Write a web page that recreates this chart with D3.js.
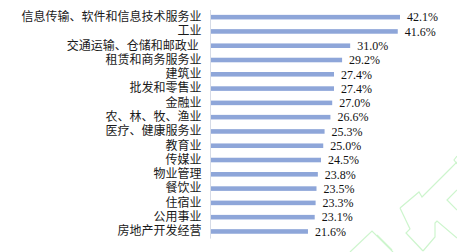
<!DOCTYPE html>
<html>
<head>
<meta charset="utf-8">
<script src="https://cdn.jsdelivr.net/npm/d3@7"></script>
<style>
  html, body { margin: 0; padding: 0; background: #fff; }
  svg { display: block; }
</style>
</head>
<body>
<div id="chart"></div>
<script>
// 行业名称（自上而下）
const industries = [
  '信息传输、软件和信息技术服务业', '工业', '交通运输、仓储和邮政业 ',
  '租赁和商务服务业', '建筑业', '批发和零售业', '金融业', '农、林、牧、渔业',
  '医疗、健康服务业', '教育业', '传媒业', '物业管理', '餐饮业', '住宿业',
  '公用事业', '房地产开发经营'
];
// 占比（%）
const shares = [42.1, 41.6, 31.0, 29.2, 27.4, 27.4, 27.0, 26.6,
  25.3, 25.0, 24.5, 23.8, 23.5, 23.3, 23.1, 21.6];

const width = 457, height = 252;
const axisX = 210.5;

const data = industries.map((name, i) => ({ name, value: shares[i] }));

const svg = d3.select('#chart').append('svg')
  .attr('width', width)
  .attr('height', height);

// 背景装饰（右下角浅绿色线框）
const deco = svg.append('g')
  .attr('fill', 'none')
  .attr('stroke', '#cdf5cd')
  .attr('stroke-width', 1.2);
[
  'M400,208 L419,192 L422,197 L450,169 L457,162',
  'M400,208 L410,229 L406,233 L423,251',
  'M423,251 L435,237 L435,223 L437,221 L457,238',
  'M457,190 L447,200 L457,210',
  'M457,156 L454,160 L457,164',
  'M350,252 L372,231 L393,252',
  'M377,235 L392,250'
].forEach(d => deco.append('path').attr('d', d));

// 比例尺
const y = d3.scaleBand()
  .domain(industries)
  .range([10, 238.6])
  .paddingInner(0.68)
  .paddingOuter(0.34);

const x = d3.scaleLinear()
  .domain([0, 42.1])
  .range([axisX + 0.5, 400]);

// 纵轴
const yAxis = svg.append('g')
  .attr('transform', `translate(${axisX},0)`)
  .call(d3.axisLeft(y).tickSize(0).tickPadding(9));
yAxis.select('.domain')
  .attr('stroke', '#d6dbe6')
  .attr('d', `M0,${y.range()[0]}V${y.range()[1]}`);
yAxis.selectAll('text')
  .attr('fill', '#1a1a1a')
  .style('font-family', '"Noto Sans CJK SC", sans-serif')
  .style('font-size', '12px')
  .style('white-space', 'pre');

// 柱子
svg.selectAll('.bar')
  .data(data)
  .enter()
  .append('rect')
  .attr('class', 'bar')
  .attr('x', x(0))
  .attr('y', d => y(d.name))
  .attr('width', d => x(d.value) - x(0))
  .attr('height', y.bandwidth())
  .attr('fill', '#8ea6d9');

// 数值标注
svg.selectAll('.bar-label')
  .data(data)
  .enter()
  .append('text')
  .attr('class', 'bar-label')
  .attr('x', d => x(d.value) + 7)
  .attr('y', d => y(d.name) + y.bandwidth() / 2)
  .attr('dy', '0.36em')
  .attr('fill', '#111')
  .style('font-family', '"Liberation Serif", serif')
  .style('font-size', '12px')
  .text(d => d.value.toFixed(1) + '%');
</script>
</body>
</html>
